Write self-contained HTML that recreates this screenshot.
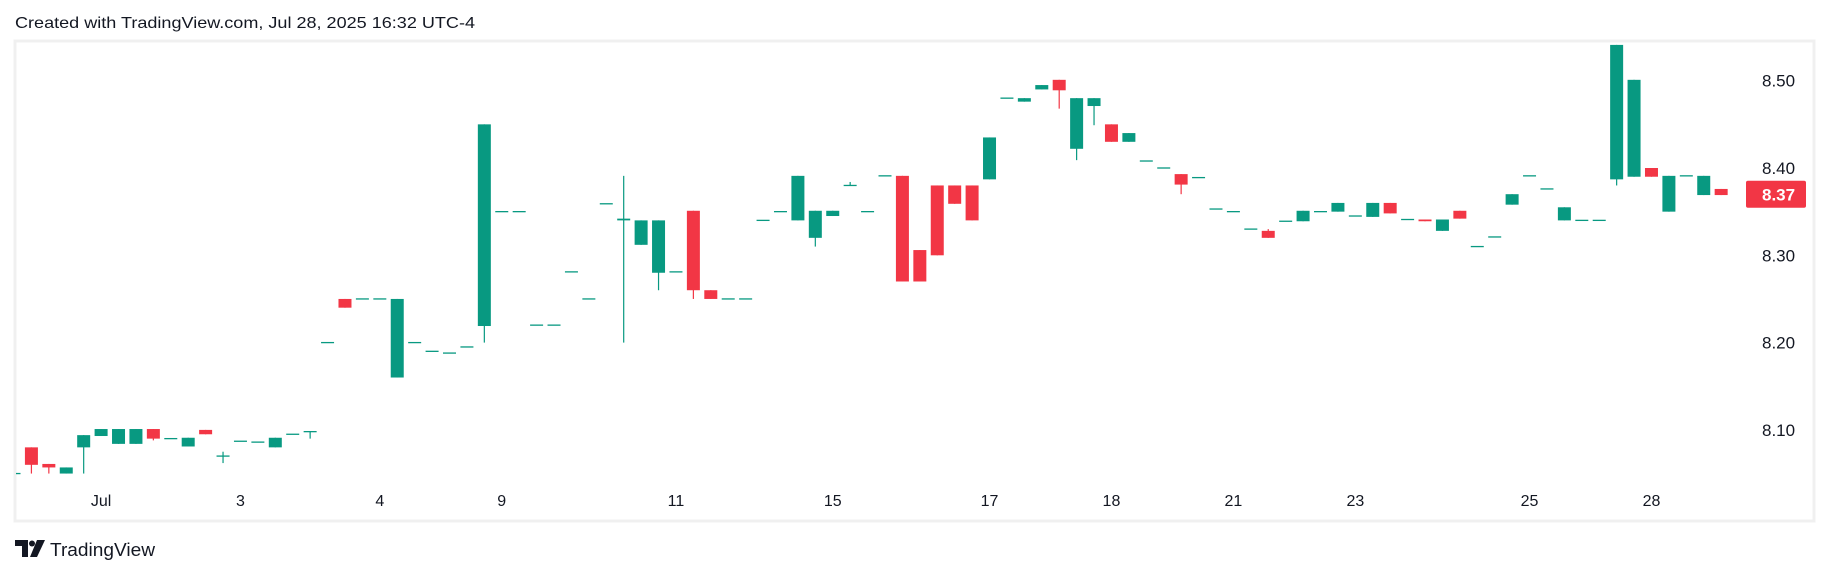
<!DOCTYPE html>
<html><head><meta charset="utf-8"><style>
html,body{margin:0;padding:0;background:#fff;width:1830px;height:574px;overflow:hidden}
svg{display:block;font-family:"Liberation Sans",sans-serif}
</style></head><body>
<svg id="chart" width="1830" height="574" viewBox="0 0 1830 574" xmlns="http://www.w3.org/2000/svg">
<text x="15" y="28" font-size="16" fill="#131722" textLength="460" lengthAdjust="spacingAndGlyphs">Created with TradingView.com, Jul 28, 2025 16:32 UTC-4</text>
<rect x="15" y="41" width="1799" height="480" fill="#fff" stroke="#f0f0f0" stroke-width="3"/>
<defs><clipPath id="plotclip"><rect x="16" y="42" width="1797" height="478"/></clipPath></defs>
<g id="candles" clip-path="url(#plotclip)"></g>
<g id="yaxis"></g>
<g id="xaxis"></g>
<g>
<path d="M15 540 h13 v17 h-6 v-11 h-7 z" fill="#131722"/>
<circle cx="32" cy="543.5" r="3" fill="#131722"/>
<path d="M37 540 h8 l-8 17 h-7 z" fill="#131722"/>
<text x="50" y="556" font-size="18" fill="#131722" textLength="105" lengthAdjust="spacingAndGlyphs">TradingView</text>
</g>
</svg>
<script>
const opens  = [8.05,8.080,8.061,8.05,8.080,8.093,8.084,8.084,8.101,8.090,8.081,8.100,8.070,8.087,8.086,8.080,8.095,8.098,8.200,8.250,8.25,8.25,8.160,8.200,8.190,8.188,8.195,8.219,8.350,8.350,8.220,8.220,8.281,8.250,8.359,8.340,8.312,8.280,8.281,8.351,8.260,8.25,8.25,8.340,8.350,8.340,8.320,8.345,8.380,8.350,8.391,8.391,8.306,8.380,8.380,8.380,8.387,8.480,8.476,8.490,8.501,8.422,8.471,8.450,8.430,8.408,8.400,8.393,8.389,8.353,8.350,8.330,8.328,8.339,8.339,8.350,8.350,8.345,8.344,8.360,8.341,8.341,8.328,8.351,8.310,8.321,8.358,8.391,8.376,8.340,8.340,8.340,8.387,8.390,8.400,8.350,8.391,8.369,8.376];
const highs  = [8.05,8.080,8.061,8.057,8.094,8.101,8.101,8.101,8.101,8.090,8.091,8.100,8.075,8.087,8.086,8.091,8.095,8.098,8.200,8.250,8.25,8.25,8.250,8.200,8.190,8.188,8.195,8.450,8.350,8.350,8.220,8.220,8.281,8.250,8.359,8.391,8.340,8.340,8.281,8.351,8.260,8.25,8.25,8.340,8.350,8.391,8.351,8.351,8.384,8.350,8.391,8.391,8.306,8.380,8.380,8.380,8.435,8.480,8.480,8.495,8.501,8.480,8.480,8.450,8.440,8.408,8.400,8.393,8.389,8.353,8.350,8.330,8.330,8.339,8.351,8.350,8.360,8.345,8.360,8.360,8.341,8.341,8.341,8.351,8.310,8.321,8.370,8.391,8.376,8.355,8.340,8.340,8.541,8.501,8.400,8.391,8.391,8.391,8.376];
const lows   = [8.05,8.05,8.05,8.05,8.05,8.093,8.084,8.084,8.088,8.090,8.081,8.095,8.062,8.087,8.086,8.080,8.095,8.090,8.200,8.240,8.25,8.25,8.160,8.200,8.190,8.188,8.195,8.200,8.350,8.350,8.220,8.220,8.281,8.250,8.359,8.200,8.312,8.260,8.281,8.250,8.250,8.25,8.25,8.340,8.350,8.340,8.310,8.345,8.380,8.350,8.391,8.270,8.270,8.300,8.359,8.340,8.387,8.480,8.476,8.490,8.468,8.409,8.449,8.430,8.430,8.408,8.400,8.370,8.389,8.353,8.350,8.330,8.320,8.339,8.339,8.350,8.350,8.345,8.344,8.348,8.341,8.339,8.328,8.342,8.310,8.321,8.358,8.391,8.376,8.340,8.340,8.340,8.380,8.390,8.390,8.350,8.391,8.369,8.369];
const closes = [8.05,8.060,8.057,8.057,8.094,8.101,8.101,8.101,8.090,8.090,8.091,8.095,8.070,8.087,8.086,8.091,8.095,8.098,8.200,8.240,8.25,8.25,8.250,8.200,8.190,8.188,8.195,8.450,8.350,8.350,8.220,8.220,8.281,8.250,8.359,8.342,8.340,8.340,8.281,8.260,8.250,8.25,8.25,8.340,8.350,8.391,8.351,8.351,8.380,8.350,8.391,8.270,8.270,8.300,8.359,8.340,8.435,8.480,8.480,8.495,8.489,8.480,8.480,8.430,8.440,8.408,8.400,8.381,8.389,8.353,8.350,8.330,8.320,8.339,8.351,8.350,8.360,8.345,8.360,8.348,8.341,8.339,8.341,8.342,8.310,8.321,8.370,8.391,8.376,8.355,8.340,8.340,8.541,8.501,8.390,8.391,8.391,8.391,8.369];
const priceTicks = [8.10,8.20,8.30,8.40,8.50];
const dateLabels = ["Jul","3","4","9","11","15","17","18","21","23","25","28"];
const dateIndex  = [5,13,21,28,38,47,56,63,70,77,87,94];
const lastPrice = 8.37;

const NS = "http://www.w3.org/2000/svg";
function xPos(i){ return 14 + 17.42*i; }
function yPos(p){ return 80.7 + (8.50 - p)*873; }
const GREEN = "#089981", RED = "#F23645";
const cg = document.getElementById('candles');
for (let i=0;i<opens.length;i++){
  const o=opens[i], c=closes[i], h=highs[i], l=lows[i];
  const col = c>=o ? GREEN : RED;
  const x = xPos(i);
  const g = document.createElementNS(NS,'g');
  
  
  const yh=yPos(h), yl=yPos(l);
  if (yl-yh > 0.5){
    const w = document.createElementNS(NS,'rect');
    
    
    w.setAttribute('x', x-0.6); w.setAttribute('y', yh);
    w.setAttribute('width', 1.2); w.setAttribute('height', yl-yh);
    w.setAttribute('fill', col);
    g.appendChild(w);
  }
  const yt=yPos(Math.max(o,c)), yb=yPos(Math.min(o,c));
  const b = document.createElementNS(NS,'rect');
  
  
  const bh = Math.max(yb-yt, 1.3);
  b.setAttribute('x', x-6.5); b.setAttribute('y', yb-yt<1.3 ? yt-0.65 : yt);
  b.setAttribute('width', 13); b.setAttribute('height', bh);
  b.setAttribute('fill', col);
  g.appendChild(b);
  cg.appendChild(g);
}
const ya = document.getElementById('yaxis');
for (const p of priceTicks){
  const t = document.createElementNS(NS,'text');
  
  
  t.setAttribute('x', 1762); t.setAttribute('y', yPos(p)+6);
  t.setAttribute('font-size', 17); t.setAttribute('fill', '#131722');
  t.textContent = p.toFixed(2);
  ya.appendChild(t);
}
const lb = document.createElementNS(NS,'rect');


lb.setAttribute('x', 1746); lb.setAttribute('y', yPos(lastPrice)-13.5);
lb.setAttribute('width', 60); lb.setAttribute('height', 27); lb.setAttribute('rx', 2);
lb.setAttribute('fill', RED);
ya.appendChild(lb);
const lt = document.createElementNS(NS,'text');


lt.setAttribute('x', 1762); lt.setAttribute('y', yPos(lastPrice)+6.5);
lt.setAttribute('font-size', 17); lt.setAttribute('font-weight', 'bold'); lt.setAttribute('fill', '#fff');
lt.textContent = lastPrice.toFixed(2);
ya.appendChild(lt);
const xa = document.getElementById('xaxis');
for (let k=0;k<dateLabels.length;k++){
  const t = document.createElementNS(NS,'text');
  
  
  t.setAttribute('x', xPos(dateIndex[k])); t.setAttribute('y', 506);
  t.setAttribute('font-size', 16); t.setAttribute('fill', '#131722');
  t.setAttribute('text-anchor', 'middle');
  t.textContent = dateLabels[k];
  xa.appendChild(t);
}
</script>
</body></html>
